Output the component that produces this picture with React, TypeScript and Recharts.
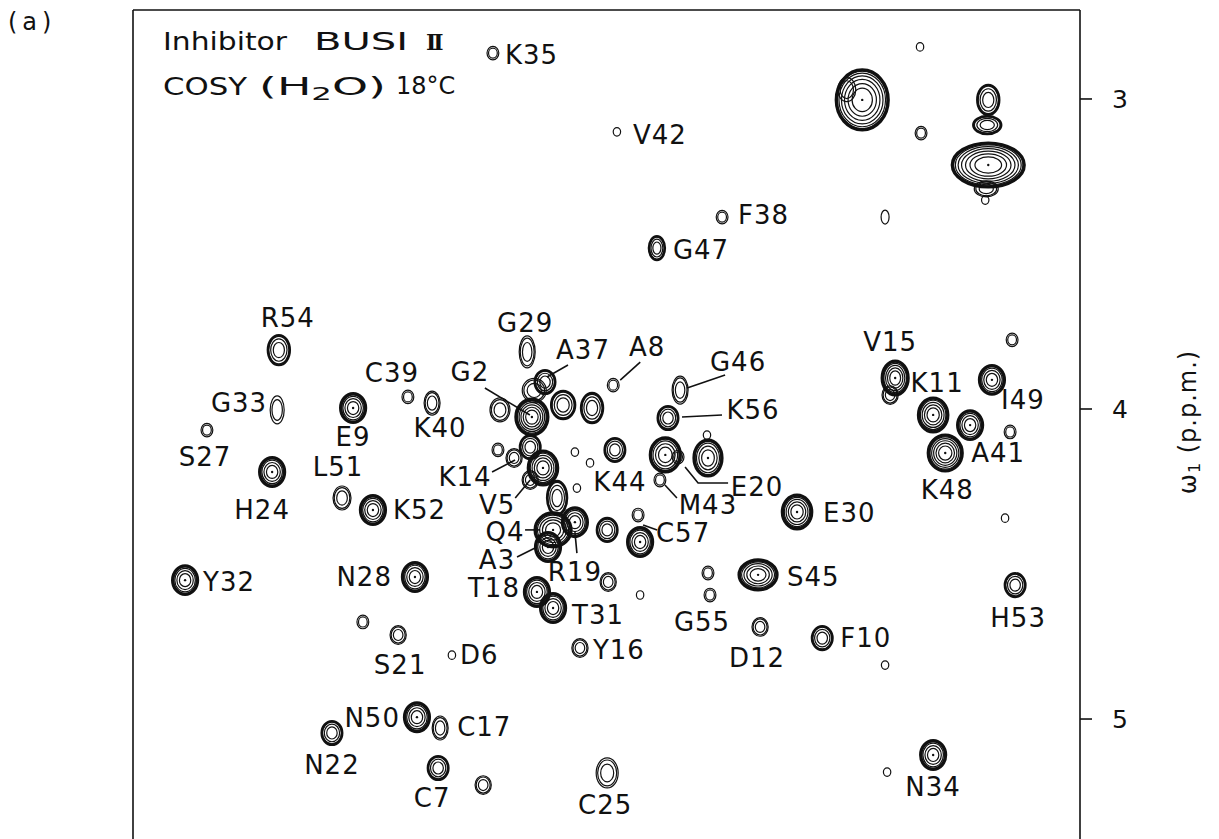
import { ScatterChart, Scatter, XAxis, YAxis } from "recharts";

// ω2 (NH) axis ticks, ω1 (Hα) axis ticks, in p.p.m.
const W2_TICKS = [7, 8, 9];
const W1_TICKS = [3, 4, 5];
const W2_DOMAIN: [number, number] = [6.926, 9.744];
const W1_DOMAIN: [number, number] = [2.713, 5.387];

// assigned NH–CαH cross peaks
const assigned = [
  "K35", "V42", "F38", "G47", "R54", "G33", "S27", "E9", "C39", "K40",
  "H24", "L51", "K52", "G29", "A37", "A8", "G2", "K14", "V5", "Q4",
  "A3", "R19", "C57", "K44", "G46", "K56", "E20", "M43", "E30", "V15",
  "K11", "A41", "K48", "I49", "Y32", "N28", "S21", "D6", "T18", "T31",
  "Y16", "G55", "S45", "D12", "F10", "H53", "N50", "C17", "N22", "C7",
  "C25", "N34",
];
const assignedW2 = [
  8.673, 8.304, 7.991, 8.185, 9.31, 9.315, 9.524, 9.089, 8.926, 8.854,
  9.33, 9.122, 9.03, 8.571, 8.518, 8.315, 8.557, 8.61, 8.562, 8.494,
  8.509, 8.429, 8.235, 8.31, 8.116, 8.152, 8.122, 8.176, 7.768, 7.476,
  7.363, 7.253, 7.327, 7.188, 9.589, 8.905, 8.955, 8.795, 8.542, 8.494,
  8.414, 8.027, 7.884, 7.878, 7.693, 7.119, 8.899, 8.83, 9.152, 8.836,
  8.333, 7.363,
];
const assignedW1 = [
  2.852, 3.106, 3.381, 3.481, 3.81, 4.003, 4.068, 3.997, 3.961, 3.981,
  4.203, 4.287, 4.326, 3.816, 3.913, 3.923, 4.026, 4.158, 4.229, 4.39,
  4.445, 4.365, 4.429, 4.132, 3.939, 4.029, 4.155, 4.229, 4.332, 3.9,
  4.019, 4.052, 4.142, 3.906, 4.552, 4.542, 4.729, 4.794, 4.59, 4.642,
  4.771, 4.6, 4.535, 4.703, 4.739, 4.568, 4.994, 5.029, 5.045, 5.158,
  5.174, 5.116,
];
// number of contour levels drawn for each peak
const assignedLevels = [
  2, 1, 2, 4, 4, 2, 2, 5, 2, 3,
  5, 3, 5, 3, 4, 2, 7, 3, 3, 6,
  5, 5, 5, 4, 3, 4, 2, 2, 6, 6,
  6, 5, 7, 5, 5, 5, 3, 1, 5, 5,
  3, 2, 6, 3, 4, 4, 5, 3, 4, 4,
  3, 5,
];

// unassigned cross peaks
const unassignedW2 = [
  7.402, 7.574, 7.399, 7.199, 7.202, 7.199, 7.208, 7.506, 8.378, 8.464,
  8.658, 8.562, 8.524, 8.482, 8.333, 8.241, 8.429, 8.384, 8.423, 8.036,
  8.16, 8.033, 7.128, 7.134, 7.149, 9.06, 8.33, 8.235, 8.033, 7.506,
  8.702, 7.5, 7.491, 8.652, 7.205, 7.62, 8.55,
];
const unassignedW1 = [
  2.832, 3.003, 3.11, 3.003, 3.084, 3.213, 3.326, 3.381, 3.997, 3.987,
  4.132, 4.123, 4.19, 4.287, 4.39, 4.342, 4.139, 4.174, 4.255, 4.084,
  4.148, 4.158, 3.777, 4.074, 4.352, 4.687, 4.558, 4.6, 4.529, 4.826,
  5.213, 5.171, 3.955, 4.003, 3.29, 2.97, 3.94,
];
const unassignedLevels = [
  1, 7, 2, 4, 4, 8, 1, 1, 4, 4,
  2, 4, 6, 4, 4, 2, 1, 1, 1, 1,
  5, 5, 2, 2, 1, 2, 3, 1, 2, 1,
  3, 1, 3, 3, 3, 2, 3,
];

type Peak = { id: string; label: string; w2: number; w1: number; levels: number };

const assignedPeaks: Peak[] = assigned.map((name, i) => ({
  id: name,
  label: name,
  w2: assignedW2[i],
  w1: assignedW1[i],
  levels: assignedLevels[i],
}));
const unassignedPeaks: Peak[] = unassignedW2.map((w2, i) => ({
  id: `u${i}`,
  label: "",
  w2,
  w1: unassignedW1[i],
  levels: unassignedLevels[i],
}));

// contour outline size overrides (px) for non-round peaks
const SHAPE: Record<string, [number, number]> = {
  G47: [8, 12], R54: [11, 15], G33: [7, 14], L51: [9, 12], G29: [8, 16],
  G46: [8, 14], Q4: [18, 17], S45: [19, 15], C17: [8, 12], C25: [11, 15],
  V15: [13, 17], G2: [16, 18], K48: [17, 18], K40: [8, 12],
  u1: [26, 30], u3: [11, 15], u4: [14, 9], u5: [36, 22], u7: [4, 7],
  u8: [11, 15], u9: [12, 14], u13: [10, 17], u20: [15, 17], u21: [14, 18],
  u33: [10, 12], u34: [12, 8], u35: [9, 12], u36: [12, 12],
};

// label placement: dx, dy, anchor, optional leader line (relative px)
type Place = [number, number, "start" | "middle" | "end", number[][]?];
const LABEL_POS: Record<string, Place> = {
  K35: [12, 2, "start"], V42: [16, 3, "start"], F38: [16, -2, "start"],
  G47: [16, 2, "start"], R54: [9, -32, "middle"], G33: [-10, -7, "end"],
  S27: [-2, 27, "middle"], E9: [0, 29, "middle"], C39: [-16, -24, "middle"],
  K40: [8, 25, "middle"], H24: [-10, 38, "middle"], L51: [-4, -31, "middle"],
  K52: [20, 0, "start"], G29: [-2, -29, "middle"],
  A37: [38, -32, "middle", [[23, -17], [2, -5]]],
  A8: [34, -38, "middle", [[27, -23], [7, -5]]],
  G2: [-62, -45, "middle", [[-47, -29], [-2, -2]]],
  K14: [-49, 19, "middle", [[-22, 14], [1, 2]]],
  V5: [-33, 25, "middle", [[-15, 18], [0, 0]]],
  Q4: [-48, 2, "middle", [[-28, 0], [-13, 0]]],
  A3: [-51, 13, "middle", [[-31, 10], [-11, 0]]],
  R19: [0, 50, "middle", [[2, 31], [0, 10]]],
  C57: [43, -9, "middle", [[17, -12], [3, -17]]],
  K44: [5, 32, "middle"],
  G46: [58, -28, "middle", [[45, -15], [7, -2]]],
  K56: [85, -8, "middle", [[54, -3], [14, -1]]],
  E20: [79, 30, "middle", [[50, 26], [20, 26], [7, 10]]],
  M43: [48, 25, "middle", [[17, 18], [5, 5]]],
  E30: [26, 1, "start"], V15: [-5, -36, "middle"], K11: [4, -32, "middle"],
  A41: [28, 28, "middle"], K48: [2, 37, "middle"], I49: [31, 20, "middle"],
  Y32: [18, 2, "start"], N28: [-23, 0, "end"], S21: [2, 30, "middle"],
  D6: [8, 0, "start"], T18: [-17, -4, "end"], T31: [19, 7, "start"],
  Y16: [13, 2, "start"], G55: [-8, 27, "middle"], S45: [29, 2, "start"],
  D12: [-3, 31, "middle"], F10: [18, 0, "start"], H53: [3, 33, "middle"],
  N50: [-17, 1, "end"], C17: [17, -1, "start"], N22: [0, 32, "middle"],
  C7: [-6, 30, "middle"], C25: [-2, 32, "middle"], N34: [0, 32, "middle"],
};

const INK = "#111";
const FONT = "DejaVu Sans";

function ContourPeak(props: any) {
  const { cx, cy, payload } = props;
  const p: Peak = payload;
  const o = SHAPE[p.id];
  const rx = o ? o[0] : 1.5 + p.levels * 2.2;
  const ry = o ? o[1] : rx * 1.15;
  const rings = [];
  for (let i = 0; i < p.levels; i++) {
    const f = 1 - 0.78 * Math.pow(i / p.levels, 1.6);
    let sw = 1.2;
    if (i === 0 && p.levels >= 5) sw = 3.2;
    else if (i === 0 && p.levels >= 4) sw = 2.4;
    else if (i === 1 && p.levels >= 5) sw = 1.8;
    rings.push(
      <ellipse key={i} cx={cx} cy={cy} rx={rx * f} ry={ry * f} fill="none" stroke={INK} strokeWidth={sw} />
    );
  }
  if (p.levels >= 5) rings.push(<circle key="c" cx={cx} cy={cy} r={1.2} fill={INK} />);

  const place = p.label ? LABEL_POS[p.label] : undefined;
  return (
    <g>
      {rings}
      {place && place[3] && (
        <polyline
          points={place[3].map(([x, y]) => `${cx + x},${cy + y}`).join(" ")}
          fill="none"
          stroke={INK}
          strokeWidth={1.6}
        />
      )}
      {place && (
        <text
          x={cx + place[0]}
          y={cy + place[1]}
          textAnchor={place[2]}
          dominantBaseline="central"
          fontFamily={FONT}
          fontSize={26}
          letterSpacing={1}
          fill={INK}
        >
          {p.label}
        </text>
      )}
    </g>
  );
}

export default function App() {
  const head = { fontFamily: FONT, fontSize: 24, fill: INK, lengthAdjust: "spacingAndGlyphs" as const };
  return (
    <div style={{ position: "absolute", left: 0, top: 0, width: 1219, height: 839, background: "#fff" }}>
      <ScatterChart width={1219} height={839} margin={{ top: 0, right: 0, bottom: 0, left: 0 }}>
        <XAxis
          xAxisId="top"
          orientation="top"
          type="number"
          dataKey="w2"
          domain={W2_DOMAIN}
          allowDataOverflow
          reversed
          ticks={W2_TICKS}
          tick={false}
          tickSize={10}
          height={10}
          axisLine={{ stroke: INK, strokeWidth: 1.6 }}
          tickLine={{ stroke: INK, strokeWidth: 1.6 }}
        />
        <YAxis
          yAxisId="left"
          orientation="left"
          type="number"
          dataKey="w1"
          domain={W1_DOMAIN}
          allowDataOverflow
          reversed
          ticks={W1_TICKS}
          tick={false}
          tickSize={12}
          width={133}
          axisLine={{ stroke: INK, strokeWidth: 1.6 }}
          tickLine={{ stroke: INK, strokeWidth: 1.6 }}
        />
        <YAxis
          yAxisId="right"
          orientation="right"
          type="number"
          dataKey="w1"
          domain={W1_DOMAIN}
          allowDataOverflow
          reversed
          ticks={W1_TICKS}
          tickSize={12}
          tickMargin={20}
          width={139}
          tick={{ fontSize: 25, fill: INK, fontFamily: FONT }}
          axisLine={{ stroke: INK, strokeWidth: 1.6 }}
          tickLine={{ stroke: INK, strokeWidth: 1.6 }}
        />
        <Scatter
          xAxisId="top"
          yAxisId="left"
          data={unassignedPeaks}
          shape={(p: any) => <ContourPeak {...p} />}
          isAnimationActive={false}
        />
        <Scatter
          xAxisId="top"
          yAxisId="left"
          data={assignedPeaks}
          shape={(p: any) => <ContourPeak {...p} />}
          isAnimationActive={false}
        />
      </ScatterChart>
      <svg
        width={1219}
        height={839}
        style={{ position: "absolute", left: 0, top: 0, pointerEvents: "none" }}
      >
        <text x={8} y={22} dominantBaseline="central" fontFamily={FONT} fontSize={24} letterSpacing={5} fill={INK}>
          (a)
        </text>
        <text x={163} y={50} textLength={124} {...head}>Inhibitor</text>
        <text x={314} y={50} textLength={94} {...head}>BUSI</text>
        <text x={426} y={50} fontFamily="DejaVu Serif" fontWeight="bold" fontSize={22} letterSpacing={-3} fill={INK}>
          II
        </text>
        <text x={163} y={95} textLength={84} {...head}>COSY</text>
        <text x={259} y={95} textLength={127} {...head}>
          (H<tspan fontSize={17} dy={5}>2</tspan>
          <tspan dy={-5}>O)</tspan>
        </text>
        <text x={396} y={94} fontFamily={FONT} fontSize={24} fill={INK}>
          18°C
        </text>
        <text
          x={0}
          y={0}
          transform="translate(1188 422) rotate(-90)"
          textAnchor="middle"
          dominantBaseline="central"
          fontFamily={FONT}
          fontSize={24}
          letterSpacing={1}
          fill={INK}
        >
          ω<tspan fontSize={16} dy={6}>1</tspan>
          <tspan dy={-6}> (p.p.m.)</tspan>
        </text>
      </svg>
    </div>
  );
}
